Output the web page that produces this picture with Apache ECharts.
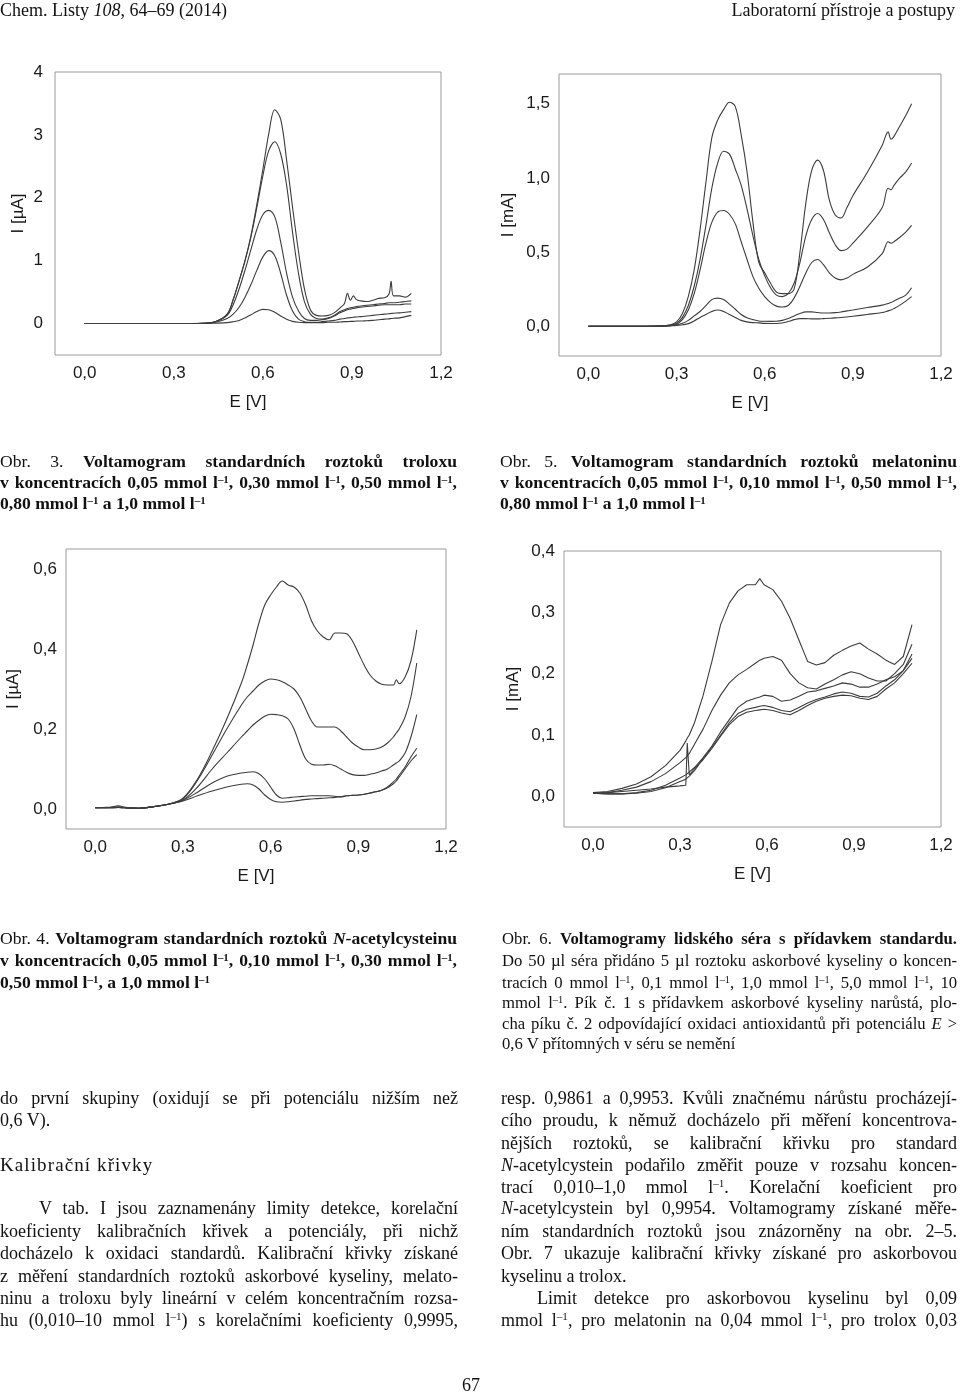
<!DOCTYPE html>
<html>
<head>
<meta charset="utf-8">
<script src="https://cdn.jsdelivr.net/npm/echarts@6/dist/echarts.min.js"></script>
<style>
html,body{margin:0;padding:0;background:#fff;}
body{width:960px;height:1393px;overflow:hidden;position:relative;font-family:"Liberation Serif","Times New Roman",serif;color:#111;}
#chart{position:absolute;left:0;top:0;width:960px;height:1393px;}
.ln{position:absolute;height:22px;line-height:22px;white-space:nowrap;text-align:justify;text-align-last:justify;z-index:2;}
.ll{text-align-last:left;}
.cap{font-size:17.6px;width:457px;}
.cap6{font-size:17.6px;width:480px;transform:scaleX(0.948);transform-origin:0 0;}
.body{font-size:18px;}
sup{font-size:0.62em;line-height:0;vertical-align:0.5em;}
.hd{position:absolute;top:0;font-size:18px;line-height:20px;white-space:nowrap;z-index:2;}
</style>
</head>
<body>
<div id="chart"></div>

<div class="hd" style="left:0;">Chem. Listy <i>108</i>, 64–69 (2014)</div>
<div class="hd" style="right:5px;">Laboratorní přístroje a postupy</div>

<!-- Obr. 3 caption -->
<div class="ln cap" style="left:0;top:450px;">Obr.&nbsp;3.&nbsp;<b>Voltamogram standardních roztoků troloxu</b></div>
<div class="ln cap" style="left:0;top:471px;"><b>v koncentracích 0,05 mmol l<sup>–1</sup>, 0,30 mmol l<sup>–1</sup>, 0,50 mmol l<sup>–1</sup>,</b></div>
<div class="ln cap ll" style="left:0;top:492px;"><b>0,80 mmol l<sup>–1</sup> a 1,0 mmol l<sup>–1</sup></b></div>

<!-- Obr. 5 caption -->
<div class="ln cap" style="left:500px;top:450px;">Obr.&nbsp;5.&nbsp;<b>Voltamogram standardních roztoků melatoninu</b></div>
<div class="ln cap" style="left:500px;top:471px;"><b>v koncentracích 0,05 mmol l<sup>–1</sup>, 0,10 mmol l<sup>–1</sup>, 0,50 mmol l<sup>–1</sup>,</b></div>
<div class="ln cap ll" style="left:500px;top:492px;"><b>0,80 mmol l<sup>–1</sup> a 1,0 mmol l<sup>–1</sup></b></div>

<!-- Obr. 4 caption -->
<div class="ln cap" style="left:0;top:927px;">Obr.&nbsp;4.&nbsp;<b>Voltamogram standardních roztoků <i>N</i>-acetylcysteinu</b></div>
<div class="ln cap" style="left:0;top:949px;"><b>v koncentracích 0,05 mmol l<sup>–1</sup>, 0,10 mmol l<sup>–1</sup>, 0,30 mmol l<sup>–1</sup>,</b></div>
<div class="ln cap ll" style="left:0;top:971px;"><b>0,50 mmol l<sup>–1</sup>, a 1,0 mmol l<sup>–1</sup></b></div>

<!-- Obr. 6 caption -->
<div class="ln cap6" style="left:502px;top:927px;">Obr.&nbsp;6.&nbsp;<b>Voltamogramy lidského séra s přídavkem standardu.</b></div>
<div class="ln cap6" style="left:502px;top:949px;">Do 50 µl séra přidáno 5 µl roztoku askorbové kyseliny o koncen-</div>
<div class="ln cap6" style="left:502px;top:971px;">tracích 0 mmol l<sup>–1</sup>, 0,1 mmol l<sup>–1</sup>, 1,0 mmol l<sup>–1</sup>, 5,0 mmol l<sup>–1</sup>, 10</div>
<div class="ln cap6" style="left:502px;top:991px;">mmol l<sup>–1</sup>. Pík č. 1 s přídavkem askorbové kyseliny narůstá, plo-</div>
<div class="ln cap6" style="left:502px;top:1012px;">cha píku č. 2 odpovídající oxidaci antioxidantů při potenciálu <i>E</i> &gt;</div>
<div class="ln cap6 ll" style="left:502px;top:1032px;">0,6 V přítomných v séru se nemění</div>

<!-- body left -->
<div class="ln body" style="left:0;width:458px;top:1087px;">do první skupiny (oxidují se při potenciálu nižším než</div>
<div class="ln body ll" style="left:0;width:458px;top:1109px;">0,6 V).</div>
<div class="ln body ll" style="left:0;width:458px;top:1154px;font-size:19px;letter-spacing:1.1px;">Kalibrační křivky</div>
<div class="ln body" style="left:39px;width:419px;top:1197px;">V tab. I jsou zaznamenány limity detekce, korelační</div>
<div class="ln body" style="left:0;width:458px;top:1220px;">koeficienty kalibračních křivek a potenciály, při nichž</div>
<div class="ln body" style="left:0;width:458px;top:1242px;">docházelo k oxidaci standardů. Kalibrační křivky získané</div>
<div class="ln body" style="left:0;width:458px;top:1265px;">z měření standardních roztoků askorbové kyseliny, melato-</div>
<div class="ln body" style="left:0;width:458px;top:1287px;">ninu a troloxu byly lineární v celém koncentračním rozsa-</div>
<div class="ln body" style="left:0;width:458px;top:1309px;">hu (0,010–10 mmol l<sup>–1</sup>) s korelačními koeficienty 0,9995,</div>

<!-- body right -->
<div class="ln body" style="left:501px;width:456px;top:1087px;">resp. 0,9861 a 0,9953. Kvůli značnému nárůstu procházejí-</div>
<div class="ln body" style="left:501px;width:456px;top:1109px;">cího proudu, k němuž docházelo při měření koncentrova-</div>
<div class="ln body" style="left:501px;width:456px;top:1132px;">nějších roztoků, se kalibrační křivku pro standard</div>
<div class="ln body" style="left:501px;width:456px;top:1154px;"><i>N</i>-acetylcystein podařilo změřit pouze v rozsahu koncen-</div>
<div class="ln body" style="left:501px;width:456px;top:1176px;">trací 0,010–1,0 mmol l<sup>–1</sup>. Korelační koeficient pro</div>
<div class="ln body" style="left:501px;width:456px;top:1197px;"><i>N</i>-acetylcystein byl 0,9954. Voltamogramy získané měře-</div>
<div class="ln body" style="left:501px;width:456px;top:1220px;">ním standardních roztoků jsou znázorněny na obr. 2–5.</div>
<div class="ln body" style="left:501px;width:456px;top:1242px;">Obr. 7 ukazuje kalibrační křivky získané pro askorbovou</div>
<div class="ln body ll" style="left:501px;width:456px;top:1265px;">kyselinu a trolox.</div>
<div class="ln body" style="left:537px;width:420px;top:1287px;">Limit detekce pro askorbovou kyselinu byl 0,09</div>
<div class="ln body" style="left:501px;width:456px;top:1309px;">mmol l<sup>–1</sup>, pro melatonin na 0,04 mmol l<sup>–1</sup>, pro trolox 0,03</div>

<div class="ln body ll" style="left:462px;width:40px;top:1374px;">67</div>

<script>
// ---------- Obr. 3: trolox (I in µA) ----------
const potential3 = [0, 0.1, 0.2, 0.3, 0.4, 0.44, 0.48, 0.5, 0.52, 0.54, 0.56, 0.58, 0.6, 0.62, 0.64, 0.66, 0.68, 0.7, 0.72, 0.74, 0.76, 0.78, 0.8, 0.82, 0.84, 0.86, 0.875, 0.885, 0.895, 0.905, 0.915, 0.93, 0.95, 0.97, 0.99, 1.01, 1.025, 1.032, 1.04, 1.06, 1.08, 1.1];
const trolox100 = [0, 0, 0, 0, 0.005, 0.03, 0.15, 0.38, 0.68, 1.0, 1.4, 1.9, 2.45, 3.02, 3.4, 3.25, 2.6, 1.85, 1.15, 0.55, 0.22, 0.13, 0.12, 0.13, 0.17, 0.25, 0.32, 0.48, 0.37, 0.44, 0.38, 0.36, 0.35, 0.37, 0.4, 0.41, 0.47, 0.67, 0.44, 0.44, 0.42, 0.48];
const trolox080 = [0, 0, 0, 0, 0.005, 0.03, 0.15, 0.38, 0.68, 1.0, 1.38, 1.85, 2.35, 2.75, 2.89, 2.7, 2.2, 1.45, 0.8, 0.35, 0.15, 0.08, 0.07, 0.09, 0.13, 0.19, 0.22, 0.24, 0.25, 0.26, 0.27, 0.28, 0.29, 0.3, 0.31, 0.32, 0.33, 0.33, 0.33, 0.34, 0.35, 0.36];
const trolox050 = [0, 0, 0, 0, 0.005, 0.03, 0.13, 0.3, 0.55, 0.85, 1.18, 1.5, 1.73, 1.8, 1.7, 1.3, 0.8, 0.42, 0.2, 0.08, 0.05, 0.05, 0.06, 0.08, 0.12, 0.17, 0.2, 0.22, 0.23, 0.24, 0.25, 0.26, 0.27, 0.28, 0.29, 0.3, 0.3, 0.3, 0.3, 0.3, 0.31, 0.31];
const trolox030 = [0, 0, 0, 0, 0.003, 0.02, 0.08, 0.15, 0.26, 0.42, 0.62, 0.85, 1.06, 1.16, 1.08, 0.8, 0.45, 0.2, 0.07, 0.03, 0.02, 0.02, 0.03, 0.04, 0.05, 0.07, 0.08, 0.09, 0.095, 0.1, 0.105, 0.11, 0.12, 0.13, 0.14, 0.15, 0.155, 0.16, 0.165, 0.17, 0.18, 0.19];
const trolox005 = [0, 0, 0, 0, 0, 0.005, 0.015, 0.03, 0.05, 0.09, 0.14, 0.19, 0.225, 0.22, 0.18, 0.12, 0.07, 0.035, 0.02, 0.015, 0.015, 0.015, 0.015, 0.02, 0.02, 0.025, 0.03, 0.03, 0.035, 0.035, 0.04, 0.04, 0.045, 0.05, 0.06, 0.07, 0.075, 0.08, 0.085, 0.09, 0.11, 0.13];

// ---------- Obr. 5: melatonin (I in mA) ----------
const potential5 = [0, 0.1, 0.2, 0.25, 0.28, 0.3, 0.32, 0.34, 0.36, 0.38, 0.4, 0.42, 0.44, 0.46, 0.48, 0.5, 0.52, 0.54, 0.56, 0.58, 0.6, 0.62, 0.64, 0.66, 0.68, 0.7, 0.72, 0.74, 0.76, 0.78, 0.8, 0.82, 0.84, 0.86, 0.88, 0.9, 0.95, 1.0, 1.02, 1.03, 1.04, 1.06, 1.08, 1.1];
const melatonin100 = [0, 0, 0, 0.003, 0.01, 0.03, 0.086, 0.2, 0.38, 0.65, 0.97, 1.27, 1.39, 1.46, 1.51, 1.48, 1.29, 1.04, 0.7, 0.43, 0.36, 0.29, 0.23, 0.22, 0.22, 0.25, 0.5, 0.83, 1.05, 1.12, 1.05, 0.85, 0.75, 0.73, 0.8, 0.88, 1.04, 1.22, 1.31, 1.26, 1.28, 1.35, 1.42, 1.5];
const melatonin080 = [0, 0, 0, 0.002, 0.008, 0.02, 0.06, 0.14, 0.27, 0.45, 0.68, 0.93, 1.1, 1.18, 1.16, 1.06, 0.95, 0.79, 0.61, 0.45, 0.34, 0.26, 0.21, 0.2, 0.22, 0.29, 0.43, 0.61, 0.72, 0.76, 0.72, 0.63, 0.55, 0.51, 0.52, 0.56, 0.67, 0.8, 0.93, 0.92, 0.95, 1.0, 1.04, 1.1];
const melatonin050 = [0, 0, 0, 0.002, 0.006, 0.014, 0.045, 0.11, 0.22, 0.38, 0.56, 0.7, 0.77, 0.78, 0.755, 0.69, 0.57, 0.45, 0.335, 0.256, 0.2, 0.16, 0.136, 0.13, 0.14, 0.19, 0.27, 0.36, 0.43, 0.45, 0.415, 0.36, 0.325, 0.313, 0.325, 0.35, 0.4, 0.49, 0.57, 0.56, 0.57, 0.6, 0.635, 0.68];
const melatonin010 = [0, 0, 0, 0.001, 0.004, 0.01, 0.02, 0.04, 0.07, 0.1, 0.14, 0.18, 0.19, 0.18, 0.15, 0.115, 0.08, 0.057, 0.045, 0.036, 0.034, 0.033, 0.034, 0.04, 0.052, 0.07, 0.086, 0.097, 0.097, 0.093, 0.09, 0.09, 0.092, 0.097, 0.104, 0.11, 0.127, 0.143, 0.154, 0.16, 0.17, 0.19, 0.21, 0.26];
const melatonin005 = [0, 0, 0, 0.001, 0.003, 0.005, 0.01, 0.018, 0.036, 0.06, 0.08, 0.1, 0.11, 0.1, 0.08, 0.06, 0.04, 0.03, 0.025, 0.023, 0.02, 0.019, 0.019, 0.022, 0.032, 0.045, 0.052, 0.052, 0.05, 0.05, 0.052, 0.054, 0.057, 0.059, 0.063, 0.068, 0.08, 0.093, 0.104, 0.11, 0.12, 0.143, 0.17, 0.2];

// ---------- Obr. 4: N-acetylcystein (I in µA) ----------
const potential4 = [0, 0.04, 0.08, 0.1, 0.15, 0.2, 0.25, 0.3, 0.35, 0.4, 0.45, 0.5, 0.52, 0.54, 0.56, 0.58, 0.6, 0.62, 0.64, 0.66, 0.68, 0.7, 0.72, 0.74, 0.76, 0.78, 0.8, 0.82, 0.84, 0.86, 0.88, 0.9, 0.92, 0.94, 0.96, 0.98, 1.0, 1.02, 1.03, 1.04, 1.06, 1.08, 1.1];
const nac100 = [0.003, 0.004, 0.005, 0.004, 0.002, 0.006, 0.012, 0.027, 0.075, 0.145, 0.225, 0.315, 0.36, 0.41, 0.465, 0.51, 0.535, 0.555, 0.57, 0.56, 0.555, 0.54, 0.51, 0.47, 0.445, 0.43, 0.423, 0.44, 0.44, 0.438, 0.42, 0.39, 0.36, 0.335, 0.32, 0.312, 0.31, 0.31, 0.323, 0.313, 0.33, 0.37, 0.448];
const nac050 = [0.003, 0.003, 0.004, 0.003, 0.002, 0.006, 0.012, 0.025, 0.072, 0.135, 0.2, 0.26, 0.28, 0.295, 0.31, 0.32, 0.325, 0.323, 0.318, 0.31, 0.3, 0.28, 0.25, 0.22, 0.205, 0.205, 0.205, 0.205, 0.195, 0.18, 0.165, 0.155, 0.148, 0.148, 0.15, 0.155, 0.165, 0.18, 0.19, 0.2, 0.23, 0.28, 0.365];
const nac030 = [0.003, 0.003, 0.004, 0.003, 0.002, 0.006, 0.012, 0.022, 0.055, 0.1, 0.14, 0.18, 0.195, 0.21, 0.222, 0.232, 0.237, 0.236, 0.233, 0.225, 0.2, 0.16, 0.125, 0.112, 0.11, 0.11, 0.112, 0.108, 0.1, 0.092, 0.086, 0.084, 0.084, 0.087, 0.09, 0.095, 0.1, 0.11, 0.115, 0.12, 0.14, 0.18, 0.236];
const nac010 = [0.003, 0.003, 0.004, 0.003, 0.002, 0.006, 0.012, 0.022, 0.042, 0.065, 0.082, 0.09, 0.092, 0.093, 0.088, 0.075, 0.055, 0.035, 0.027, 0.028, 0.03, 0.031, 0.032, 0.033, 0.033, 0.033, 0.033, 0.032, 0.03, 0.033, 0.034, 0.035, 0.037, 0.04, 0.043, 0.047, 0.055, 0.068, 0.075, 0.085, 0.105, 0.13, 0.152];
const nac005 = [0.003, 0.003, 0.008, 0.004, 0.002, 0.006, 0.012, 0.02, 0.033, 0.045, 0.055, 0.062, 0.063, 0.06, 0.05, 0.035, 0.024, 0.018, 0.017, 0.018, 0.02, 0.022, 0.024, 0.025, 0.026, 0.027, 0.028, 0.029, 0.031, 0.033, 0.034, 0.035, 0.037, 0.04, 0.043, 0.047, 0.053, 0.063, 0.07, 0.08, 0.1, 0.12, 0.136];

// ---------- Obr. 6: serum + ascorbic acid (I in mA) ----------
const potential6 = [0, 0.05, 0.1, 0.15, 0.2, 0.25, 0.3, 0.32, 0.325, 0.332, 0.35, 0.38, 0.41, 0.44, 0.47, 0.5, 0.53, 0.56, 0.575, 0.59, 0.62, 0.65, 0.68, 0.71, 0.74, 0.77, 0.8, 0.83, 0.86, 0.89, 0.92, 0.95, 0.98, 1.01, 1.04, 1.07, 1.1];
const serum10 = [0.006, 0.008, 0.013, 0.02, 0.032, 0.05, 0.075, 0.09, 0.095, 0.1, 0.12, 0.165, 0.22, 0.28, 0.315, 0.335, 0.345, 0.345, 0.355, 0.345, 0.337, 0.318, 0.29, 0.255, 0.22, 0.214, 0.218, 0.23, 0.238, 0.245, 0.25, 0.24, 0.232, 0.222, 0.215, 0.228, 0.28];
const serum5 = [0.005, 0.006, 0.01, 0.015, 0.024, 0.037, 0.055, 0.063, 0.066, 0.07, 0.085, 0.11, 0.14, 0.165, 0.185, 0.198, 0.207, 0.217, 0.222, 0.225, 0.228, 0.222, 0.2, 0.185, 0.177, 0.175, 0.183, 0.19, 0.198, 0.203, 0.2, 0.193, 0.188, 0.188, 0.2, 0.215, 0.248];
const serum1 = [0.005, 0.004, 0.004, 0.006, 0.01, 0.018, 0.03, 0.035, 0.037, 0.04, 0.047, 0.063, 0.082, 0.105, 0.125, 0.145, 0.155, 0.16, 0.162, 0.165, 0.163, 0.155, 0.157, 0.163, 0.17, 0.172, 0.176, 0.18, 0.185, 0.183, 0.178, 0.178, 0.183, 0.19, 0.195, 0.205, 0.232];
const serum01 = [0.005, 0.004, 0.004, 0.005, 0.008, 0.014, 0.024, 0.028, 0.03, 0.033, 0.042, 0.062, 0.08, 0.1, 0.12, 0.135, 0.142, 0.145, 0.147, 0.148, 0.145, 0.14, 0.138, 0.145, 0.152, 0.158, 0.162, 0.167, 0.17, 0.168, 0.163, 0.162, 0.168, 0.18, 0.19, 0.205, 0.225];
const serum0 = [0.005, 0.006, 0.008, 0.01, 0.012, 0.015, 0.017, 0.018, 0.087, 0.035, 0.045, 0.06, 0.078, 0.098, 0.117, 0.13, 0.137, 0.14, 0.141, 0.142, 0.14, 0.136, 0.133, 0.14, 0.148, 0.155, 0.16, 0.163, 0.165, 0.164, 0.16, 0.158, 0.163, 0.175, 0.185, 0.2, 0.217];
const peakNames6 = ['1', '2'];
const peakE6 = [0.559, 0.921];
const peakI6 = [0.369, 0.266];

// ---------- axis tick labels ----------
const xTickLabels = ['0,0', '0,3', '0,6', '0,9', '1,2'];

// ---------- build chart ----------
const LINE = '#3c3c3c';
const AX_FONT = 'Liberation Sans, Arial, sans-serif';
const grids = [
  {left: 55, top: 72, width: 386, height: 283},
  {left: 559, top: 74, width: 382, height: 282},
  {left: 66, top: 549, width: 380, height: 280},
  {left: 564, top: 551, width: 377, height: 276}
];
const yCfg = [
  {min: -0.5, max: 4, interval: 0.5, step: 1, dec: 0, name: 'I [\u00b5A]', gap: 28, margin: 12},
  {min: -0.2, max: 1.7, interval: 0.1, step: 0.5, dec: 1, name: 'I [mA]', gap: 42, margin: 9},
  {min: -0.05, max: 0.65, interval: 0.05, step: 0.2, dec: 1, name: 'I [\u00b5A]', gap: 44, margin: 9},
  {min: -0.05, max: 0.4, interval: 0.05, step: 0.1, dec: 1, name: 'I [mA]', gap: 42, margin: 9}
];
function onStep(v, step) { const k = v / step; return Math.abs(k - Math.round(k)) < 1e-6; }
function fmt(v, dec) { return (Math.abs(v) < 1e-9 ? 0 : v).toFixed(dec).replace('.', ','); }

const xAxes = grids.map((g, i) => ({
  type: 'value', gridIndex: i, min: -0.1, max: 1.2, interval: 0.1,
  axisLine: {show: false}, axisTick: {show: false}, splitLine: {show: false},
  axisLabel: {
    margin: 10, color: '#1a1a1a', fontSize: 17, fontFamily: AX_FONT,
    formatter: v => {
      if (!onStep(v, 0.3) || v < -1e-9) return '';
      return xTickLabels[Math.round(v / 0.3)];
    }
  },
  name: 'E [V]', nameLocation: 'middle', nameGap: 39,
  nameTextStyle: {color: '#1a1a1a', fontSize: 17, fontFamily: AX_FONT}
}));
const yAxes = yCfg.map((c, i) => ({
  type: 'value', gridIndex: i, min: c.min, max: c.max, interval: c.interval,
  axisLine: {show: false}, axisTick: {show: false}, splitLine: {show: false},
  axisLabel: {
    margin: c.margin, color: '#1a1a1a', fontSize: 17, fontFamily: AX_FONT,
    formatter: v => (onStep(v, c.step) && v > -1e-9) ? fmt(v, c.dec) : ''
  },
  name: c.name, nameLocation: 'middle', nameGap: c.gap, nameRotate: 90,
  nameTextStyle: {color: '#1a1a1a', fontSize: 17, fontFamily: AX_FONT}
}));

function lineSeries(xs, ys, idx, smooth) {
  return {
    type: 'line', xAxisIndex: idx, yAxisIndex: idx,
    data: xs.map((x, i) => [x, ys[i]]),
    showSymbol: false, symbol: 'none', smooth: smooth,
    lineStyle: {color: LINE, width: 1.1}, silent: true, animation: false
  };
}

const series = [];
[trolox100, trolox080, trolox050, trolox030, trolox005].forEach(s => series.push(lineSeries(potential3, s, 0, 0.35)));
[melatonin100, melatonin080, melatonin050, melatonin010, melatonin005].forEach(s => series.push(lineSeries(potential5, s, 1, 0.35)));
[nac100, nac050, nac030, nac010, nac005].forEach(s => series.push(lineSeries(potential4, s, 2, 0.35)));
[serum10, serum5, serum1, serum01, serum0].forEach(s => series.push(lineSeries(potential6, s, 3, false)));
series.push({
  type: 'scatter', xAxisIndex: 3, yAxisIndex: 3, symbolSize: 1,
  itemStyle: {opacity: 0}, silent: true, animation: false,
  data: peakNames6.map((n, i) => [peakE6[i], peakI6[i], n]),
  label: {show: true, position: 'inside', formatter: p => p.value[2],
    color: '#111', fontWeight: 'bold', fontSize: 15, fontFamily: AX_FONT}
});

const chart = echarts.init(document.getElementById('chart'), null, {renderer: 'canvas'});
chart.setOption({
  backgroundColor: '#fff',
  animation: false,
  grid: grids.map(g => Object.assign({show: true, borderColor: '#9a9a9a', borderWidth: 1, backgroundColor: 'transparent'}, g)),
  xAxis: xAxes,
  yAxis: yAxes,
  series: series
});
</script>
</body>
</html>
